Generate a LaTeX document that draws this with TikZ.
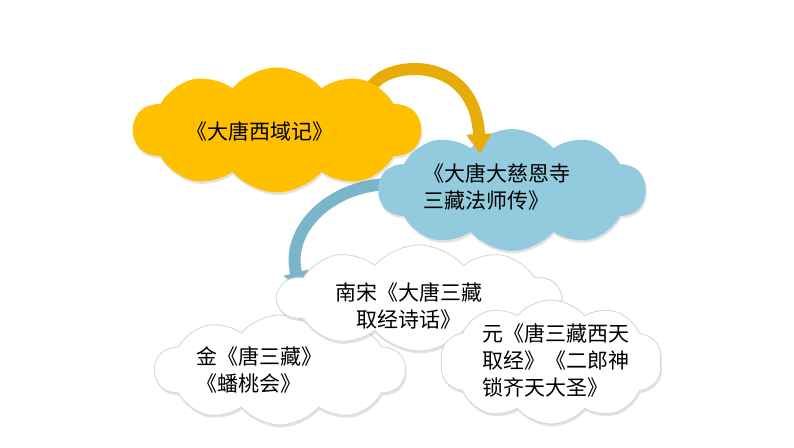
\documentclass[tikz,border=0pt]{standalone}
\usepackage{fontspec}
\newfontfamily\cjk{Noto Sans CJK SC}
\usetikzlibrary{shapes.symbols,shadows,arrows.meta}
\definecolor{cyellow}{RGB}{255,192,0}
\definecolor{cblue}{RGB}{146,203,221}
\definecolor{ayellow}{RGB}{232,172,8}
\definecolor{ablue}{RGB}{122,182,202}
\definecolor{cedge}{RGB}{215,215,215}
\tikzset{
  cloudbase/.style={cloud, cloud puffs=10, cloud puff arc=100, inner sep=0pt,
    drop shadow={opacity=0.22, shadow xshift=1pt, shadow yshift=-2.5pt}},
  ycloud/.style={cloudbase, fill=cyellow},
  bcloud/.style={cloudbase, fill=cblue},
  wcloud/.style={cloudbase, fill=white, draw=cedge, line width=0.9pt},
  txt/.style={font=\cjk\fontsize{21}{27}\selectfont, text=black, inner sep=0pt},
  curvearrow/.style={line width=12pt, -{Triangle[length=20pt,width=24pt]}}
}
\begin{document}
\begin{tikzpicture}[x=1pt,y=-1pt]
\useasboundingbox (0,0) rectangle (794,447);
\fill[white] (0,0) rectangle (794,447);
% arrow coordinates
\coordinate (ys) at (372,86);
\coordinate (ye) at (480,154);
\coordinate (bs) at (390,184);
\coordinate (be) at (301,292);
% blue arrow (behind blue cloud and middle cloud)
\draw[curvearrow, ablue] (bs) .. controls (330,185) and (285,230) .. (be);
% blue cloud
\node[bcloud, minimum width=267pt, minimum height=122pt] (c2) at (512,190) {};
% yellow arrow
\draw[curvearrow, ayellow] (ys) .. controls (390,60) and (475,55) .. (ye);
% yellow cloud
\node[ycloud, minimum width=287pt, minimum height=125pt] (c1) at (277,130) {};
% white clouds
\node[wcloud, minimum width=250pt, minimum height=110pt] (c4) at (280,370) {};
\node[wcloud, minimum width=282pt, minimum height=106pt] (c3) at (419,298) {};
\node[wcloud, minimum width=222pt, minimum height=124pt] (c5) at (551,362) {};
% texts
\node[txt] (t1) at (260,131) {《大唐西域记》};
\node[txt, align=left, anchor=west] (t2) at (423,187) {《大唐大慈恩寺\\三藏法师传》};
\node[txt, align=center] (t3) at (409,306) {南宋《大唐三藏\\取经诗话》};
\node[txt, align=left, anchor=west] (t4) at (196,370) {金《唐三藏》\\《蟠桃会》};
\node[txt, align=left, anchor=west] (t5) at (482,360) {元《唐三藏西天\\取经》《二郎神\\锁齐天大圣》};
\end{tikzpicture}
\end{document}
